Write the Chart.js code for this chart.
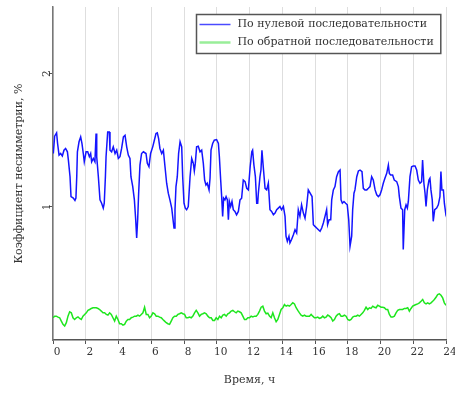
<!DOCTYPE html>
<html>
<head>
<meta charset="utf-8">
<script src="https://cdn.jsdelivr.net/npm/chart.js@4.4.1/dist/chart.umd.min.js"></script>
<style>
  html, body { margin: 0; padding: 0; background: #fff; }
  #wrap { width: 455px; height: 394px; }
</style>
</head>
<body>
<div id="wrap"><canvas id="chart" width="455" height="394"></canvas></div>
<script>
// Коэффициент несимметрии напряжения за сутки

const SERIES_LABELS = ['По нулевой последовательности', 'По обратной последовательности'];
const X_TITLE = 'Время, ч';
const Y_TITLE = 'Коэффициент несимметрии, %';
const Y_TICKS = [1, 2];

// zero sequence: time (h) / value (%)
const ZERO_T = [
  0.02, 0.10, 0.22, 0.28, 0.37, 0.47, 0.57, 0.67, 0.77, 0.88, 0.94, 1.04, 1.10, 1.24, 1.34, 1.40, 1.45, 1.49, 1.59, 1.69,
  1.77, 1.85, 1.91, 2.02, 2.12, 2.22, 2.30, 2.36, 2.46, 2.56, 2.63, 2.67, 2.77, 2.87, 2.97, 3.07, 3.13, 3.20, 3.24, 3.34,
  3.44, 3.48, 3.58, 3.68, 3.79, 3.89, 3.99, 4.09, 4.19, 4.30, 4.40, 4.50, 4.60, 4.70, 4.76, 4.87, 4.97, 5.05, 5.11, 5.17,
  5.23, 5.31, 5.41, 5.52, 5.68, 5.76, 5.86, 5.96, 6.09, 6.19, 6.29, 6.37, 6.45, 6.53, 6.64, 6.74, 6.84, 6.94, 7.04, 7.14,
  7.25, 7.39, 7.45, 7.51, 7.59, 7.67, 7.76, 7.86, 7.92, 8.00, 8.08, 8.16, 8.26, 8.37, 8.47, 8.57, 8.63, 8.69, 8.77, 8.87,
  8.98, 9.08, 9.18, 9.26, 9.34, 9.42, 9.53, 9.59, 9.65, 9.75, 9.85, 9.99, 10.10, 10.16, 10.24, 10.30, 10.36, 10.42, 10.50, 10.57,
  10.65, 10.71, 10.77, 10.85, 10.93, 11.01, 11.11, 11.21, 11.32, 11.42, 11.52, 11.62, 11.73, 11.83, 11.93, 12.04, 12.14, 12.19, 12.27, 12.36,
  12.44, 12.50, 12.54, 12.64, 12.70, 12.76, 12.84, 12.95, 13.05, 13.15, 13.25, 13.35, 13.46, 13.56, 13.66, 13.76, 13.86, 13.96, 14.07, 14.17,
  14.23, 14.31, 14.41, 14.47, 14.57, 14.68, 14.78, 14.88, 14.98, 15.08, 15.18, 15.29, 15.39, 15.49, 15.59, 15.82, 15.90, 16.00, 16.10, 16.21,
  16.31, 16.41, 16.51, 16.61, 16.71, 16.77, 16.86, 16.96, 17.02, 17.12, 17.22, 17.32, 17.43, 17.53, 17.59, 17.67, 17.77, 17.87, 17.97, 18.06,
  18.14, 18.24, 18.30, 18.38, 18.44, 18.55, 18.65, 18.75, 18.87, 18.95, 19.05, 19.16, 19.26, 19.36, 19.46, 19.56, 19.67, 19.77, 19.87, 19.97,
  20.07, 20.17, 20.27, 20.38, 20.48, 20.54, 20.62, 20.74, 20.84, 20.99, 21.09, 21.15, 21.25, 21.35, 21.39, 21.48, 21.56, 21.64, 21.70, 21.80,
  21.90, 22.00, 22.11, 22.21, 22.31, 22.41, 22.51, 22.57, 22.65, 22.72, 22.78, 22.86, 22.96, 23.02, 23.08, 23.16, 23.22, 23.31, 23.43, 23.53,
  23.63, 23.69, 23.75, 23.84, 23.90, 23.98, 24.00
];
const ZERO_V = [
  1.400, 1.530, 1.555, 1.475, 1.388, 1.400, 1.381, 1.425, 1.438, 1.413, 1.351, 1.226, 1.077, 1.065, 1.047, 1.065, 1.226, 1.413, 1.488, 1.525,
  1.475, 1.400, 1.338, 1.413, 1.413, 1.376, 1.400, 1.338, 1.363, 1.338, 1.550, 1.376, 1.226, 1.052, 1.027, 0.990, 1.027, 1.226, 1.376, 1.562,
  1.562, 1.425, 1.413, 1.450, 1.400, 1.425, 1.363, 1.376, 1.438, 1.525, 1.537, 1.450, 1.388, 1.363, 1.226, 1.152, 1.052, 0.903, 0.766, 0.903,
  1.102, 1.313, 1.400, 1.413, 1.400, 1.326, 1.301, 1.400, 1.450, 1.500, 1.550, 1.555, 1.512, 1.438, 1.400, 1.425, 1.301, 1.177, 1.102, 1.052,
  0.990, 0.841, 0.978, 1.152, 1.226, 1.400, 1.488, 1.450, 1.226, 1.027, 0.990, 0.978, 1.002, 1.226, 1.363, 1.326, 1.269, 1.326, 1.450, 1.455,
  1.413, 1.425, 1.326, 1.201, 1.164, 1.177, 1.127, 1.214, 1.425, 1.475, 1.500, 1.505, 1.475, 1.376, 1.201, 1.077, 0.928, 1.065, 1.052, 1.077,
  1.052, 0.903, 1.040, 1.002, 1.040, 0.978, 0.965, 0.940, 0.965, 1.052, 1.065, 1.201, 1.189, 1.139, 1.127, 1.301, 1.413, 1.425, 1.313, 1.226,
  1.027, 1.027, 1.102, 1.226, 1.276, 1.425, 1.301, 1.139, 1.127, 1.177, 0.978, 0.965, 0.940, 0.953, 0.978, 0.990, 1.002, 0.978, 1.002, 0.928,
  0.779, 0.741, 0.779, 0.729, 0.754, 0.791, 0.828, 0.803, 0.978, 0.928, 1.015, 0.953, 0.915, 1.002, 1.127, 1.077, 0.866, 0.853, 0.841, 0.828,
  0.816, 0.841, 0.878, 0.928, 0.978, 0.866, 0.903, 0.903, 1.052, 1.127, 1.152, 1.226, 1.264, 1.276, 1.052, 1.027, 1.040, 1.027, 1.015, 0.903,
  0.704, 0.779, 0.978, 1.102, 1.127, 1.226, 1.269, 1.276, 1.264, 1.139, 1.127, 1.127, 1.139, 1.152, 1.226, 1.201, 1.127, 1.090, 1.077, 1.090,
  1.127, 1.177, 1.214, 1.251, 1.313, 1.251, 1.239, 1.239, 1.201, 1.189, 1.152, 1.077, 0.990, 0.978, 0.679, 0.978, 1.015, 0.990, 1.040, 1.226,
  1.301, 1.306, 1.306, 1.276, 1.201, 1.177, 1.189, 1.351, 1.177, 1.102, 1.002, 1.127, 1.201, 1.214, 1.127, 1.052, 0.891, 0.978, 0.990, 1.015,
  1.077, 1.264, 1.127, 1.127, 1.027, 0.953, 0.965
];

// negative sequence: read at an even step across the 24 h
const NEG_START = 0;
const NEG_END = 24;
const NEG_V = [
  0.167, 0.179, 0.179, 0.172, 0.167, 0.142, 0.117, 0.105, 0.130, 0.179,
  0.212, 0.204, 0.167, 0.154, 0.167, 0.174, 0.162, 0.154, 0.179, 0.192,
  0.204, 0.222, 0.229, 0.237, 0.242, 0.242, 0.242, 0.237, 0.229, 0.217,
  0.204, 0.204, 0.192, 0.187, 0.204, 0.192, 0.167, 0.142, 0.179, 0.154,
  0.122, 0.122, 0.112, 0.117, 0.142, 0.154, 0.154, 0.167, 0.172, 0.179,
  0.179, 0.187, 0.179, 0.192, 0.204, 0.246, 0.192, 0.192, 0.167, 0.179,
  0.204, 0.197, 0.179, 0.179, 0.172, 0.167, 0.154, 0.142, 0.130, 0.122,
  0.117, 0.142, 0.167, 0.179, 0.179, 0.192, 0.197, 0.204, 0.197, 0.192,
  0.167, 0.167, 0.172, 0.167, 0.179, 0.204, 0.222, 0.204, 0.179, 0.192,
  0.197, 0.204, 0.197, 0.179, 0.167, 0.167, 0.147, 0.147, 0.167, 0.154,
  0.179, 0.167, 0.187, 0.192, 0.179, 0.197, 0.204, 0.217, 0.222, 0.212,
  0.204, 0.217, 0.212, 0.204, 0.179, 0.154, 0.154, 0.167, 0.167, 0.179,
  0.174, 0.179, 0.179, 0.192, 0.217, 0.246, 0.254, 0.217, 0.197, 0.202,
  0.179, 0.167, 0.204, 0.167, 0.137, 0.154, 0.192, 0.229, 0.242, 0.266,
  0.254, 0.261, 0.254, 0.266, 0.279, 0.271, 0.242, 0.222, 0.204, 0.187,
  0.179, 0.187, 0.179, 0.179, 0.179, 0.192, 0.179, 0.167, 0.167,
  0.172, 0.162, 0.167, 0.179, 0.167, 0.172, 0.187, 0.179, 0.167, 0.142,
  0.154, 0.179, 0.192, 0.197, 0.179, 0.179, 0.187, 0.179, 0.154, 0.147,
  0.154, 0.172, 0.179, 0.179, 0.187, 0.179, 0.192, 0.204, 0.222, 0.246,
  0.229, 0.242, 0.237, 0.254, 0.246, 0.242, 0.261, 0.254, 0.246, 0.246,
  0.242, 0.229, 0.229, 0.192, 0.172, 0.172, 0.179, 0.204, 0.222, 0.229,
  0.229, 0.229, 0.237, 0.237, 0.242, 0.217, 0.237, 0.254, 0.261, 0.266,
  0.271, 0.279, 0.291, 0.304, 0.279, 0.271, 0.279, 0.271, 0.279, 0.291,
  0.304, 0.321, 0.341, 0.346, 0.336, 0.316, 0.279, 0.261
];

const BLUE = '#1414ff';
const GREEN = '#1ee61e';
const TEXT = '#333';
const SERIF = "'DejaVu Serif', serif";

const negStep = (NEG_END - NEG_START) / (NEG_V.length - 1);
const zeroData = ZERO_T.map((x, i) => ({ x, y: ZERO_V[i] }));
const negData = NEG_V.map((y, i) => ({ x: NEG_START + i * negStep, y }));

// legend in a white frame inside the top-right corner of the plot
const framedLegend = {
  id: 'framedLegend',
  afterDatasetsDraw(chart) {
    const { ctx, chartArea } = chart;
    const sets = chart.data.datasets;
    ctx.save();
    ctx.font = `11px ${SERIF}`;
    const textW = Math.max(...sets.map(d => ctx.measureText(d.label).width));
    const w = 41 + textW + 7, h = 39;
    const x = Math.round(chartArea.right - 6 - w) + 0.5, y = Math.round(chartArea.top + 7) + 0.5;
    ctx.fillStyle = '#fff';
    ctx.fillRect(x, y, w, h);
    ctx.strokeStyle = '#555';
    ctx.lineWidth = 1.5;
    ctx.strokeRect(x, y, w, h);
    sets.forEach((d, i) => {
      const ly = y + 10 + i * 18;
      ctx.strokeStyle = d.legendColor;
      ctx.lineWidth = d.legendWidth;
      ctx.beginPath(); ctx.moveTo(x + 3, ly); ctx.lineTo(x + 34, ly); ctx.stroke();
      ctx.fillStyle = TEXT;
      ctx.textBaseline = 'middle';
      ctx.fillText(d.label, x + 41, ly);
    });
    ctx.restore();
  },
};

new Chart(document.getElementById('chart'), {
  type: 'line',
  data: {
    datasets: [
      { label: SERIES_LABELS[0], data: zeroData, borderColor: BLUE, borderWidth: 1.5, pointRadius: 0, tension: 0,
        legendColor: '#4a4aff', legendWidth: 1.5 },
      { label: SERIES_LABELS[1], data: negData, borderColor: GREEN, borderWidth: 1.5, pointRadius: 0, tension: 0,
        legendColor: '#99ee99', legendWidth: 2.5 },
    ],
  },
  options: {
    responsive: false, animation: false,
    layout: { padding: { left: 8, right: 9, top: 7, bottom: 7 } },
    plugins: { legend: { display: false }, tooltip: { enabled: false } },
    scales: {
      x: {
        type: 'linear', min: 0, max: 24,
        ticks: { stepSize: 2, color: TEXT, font: { family: SERIF, size: 10.5 }, padding: 2, labelOffset: 4, maxRotation: 0 },
        grid: { color: '#dedede', tickColor: '#555', tickLength: 4 },
        border: { color: '#555', width: 1.5 },
        title: { display: true, text: X_TITLE, color: TEXT, font: { family: SERIF, size: 11 }, padding: 0 },
        afterFit: s => { s.height = 47; },
      },
      y: {
        min: 0, max: 2.5,
        afterBuildTicks: s => { s.ticks = Y_TICKS.map(value => ({ value })); },
        ticks: { color: TEXT, font: { family: SERIF, size: 10.5 }, minRotation: 90, maxRotation: 90, crossAlign: 'center', padding: -2 },
        grid: { drawOnChartArea: false, tickColor: '#555', tickLength: 4 },
        border: { color: '#777', width: 1.5 },
        title: { display: true, text: Y_TITLE, color: TEXT, font: { family: SERIF, size: 11 }, padding: { top: 5, bottom: 0 } },
        afterFit: s => { s.width = 45; },
      },
    },
  },
  plugins: [framedLegend],
});
</script>
</body>
</html>
